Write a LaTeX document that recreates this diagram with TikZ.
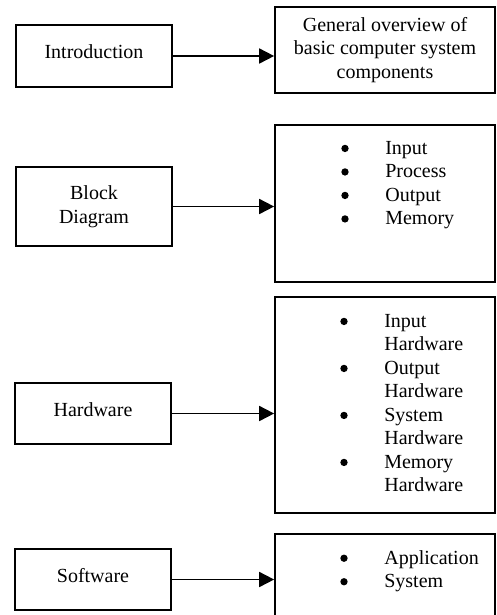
\documentclass[tikz,border=0pt]{standalone}
\usepackage{fontspec}
\setmainfont{Liberation Serif}
\usetikzlibrary{arrows.meta}

\tikzset{
  leftbox/.style={rectangle, draw, line width=1pt, minimum width=93.6pt, align=center},
  rightbox/.style={rectangle, draw, line width=1pt, minimum width=132pt, align=center},
  itemlist/.style={inner sep=0pt, align=left, anchor=north west},
  link/.style={line width=1pt, -{Triangle[length=9pt, width=9pt]}}
}
\newcommand{\bdot}{\tikz[baseline=-3.6pt, x=1pt, y=1pt]\fill (2.2,0) circle [radius=2.2pt];}
\newcommand{\bitem}[1]{\makebox[26.4pt][l]{\bdot}#1}
\newcommand{\bcont}[1]{\hspace*{26.4pt}#1}

\begin{document}
\begin{tikzpicture}[x=0.6pt, y=-0.6pt, font=\fontsize{12}{14.1}\selectfont]
  \useasboundingbox (0,0) rectangle (497,615);

  % left column
  \node[leftbox, minimum height=37.2pt, text depth=5pt] (intro) at (94,56) {Introduction};
  \node[leftbox, minimum height=47.4pt] (block) at (94,206.5) {Block\\Diagram};
  \node[leftbox, minimum height=36.6pt, text depth=5pt] (hw) at (93,413.5) {Hardware};
  \node[leftbox, minimum height=36.6pt, text depth=5pt] (sw) at (93,579.5) {Software};

  % right column
  \node[rightbox, minimum height=51.6pt] (intror) at (385,50)
    {General overview of\\basic computer system\\components};
  \node[rightbox, minimum height=94.2pt] (blockr) at (385,203.5) {};
  \node[rightbox, minimum height=129.6pt] (hwr) at (385,405) {};
  \node[rightbox, minimum height=63.6pt] (swr) at (385,587) {};

  \node[itemlist] (blocklist) at (341,141)
    {\bitem{Input}\\\bitem{Process}\\\bitem{Output}\\\bitem{Memory}};
  \node[itemlist] (hwlist) at (340,314)
    {\bitem{Input}\\\bcont{Hardware}\\\bitem{Output}\\\bcont{Hardware}\\
     \bitem{System}\\\bcont{Hardware}\\\bitem{Memory}\\\bcont{Hardware}};
  \node[itemlist] (swlist) at (340,550)
    {\bitem{Application}\\\bitem{System}};

  \draw[link] (intro.east) -- (intro.east -| intror.west);
  \draw[link] (block.east) -- (block.east -| blockr.west);
  \draw[link] (hw.east) -- (hw.east -| hwr.west);
  \draw[link] (sw.east) -- (sw.east -| swr.west);
\end{tikzpicture}
\end{document}
